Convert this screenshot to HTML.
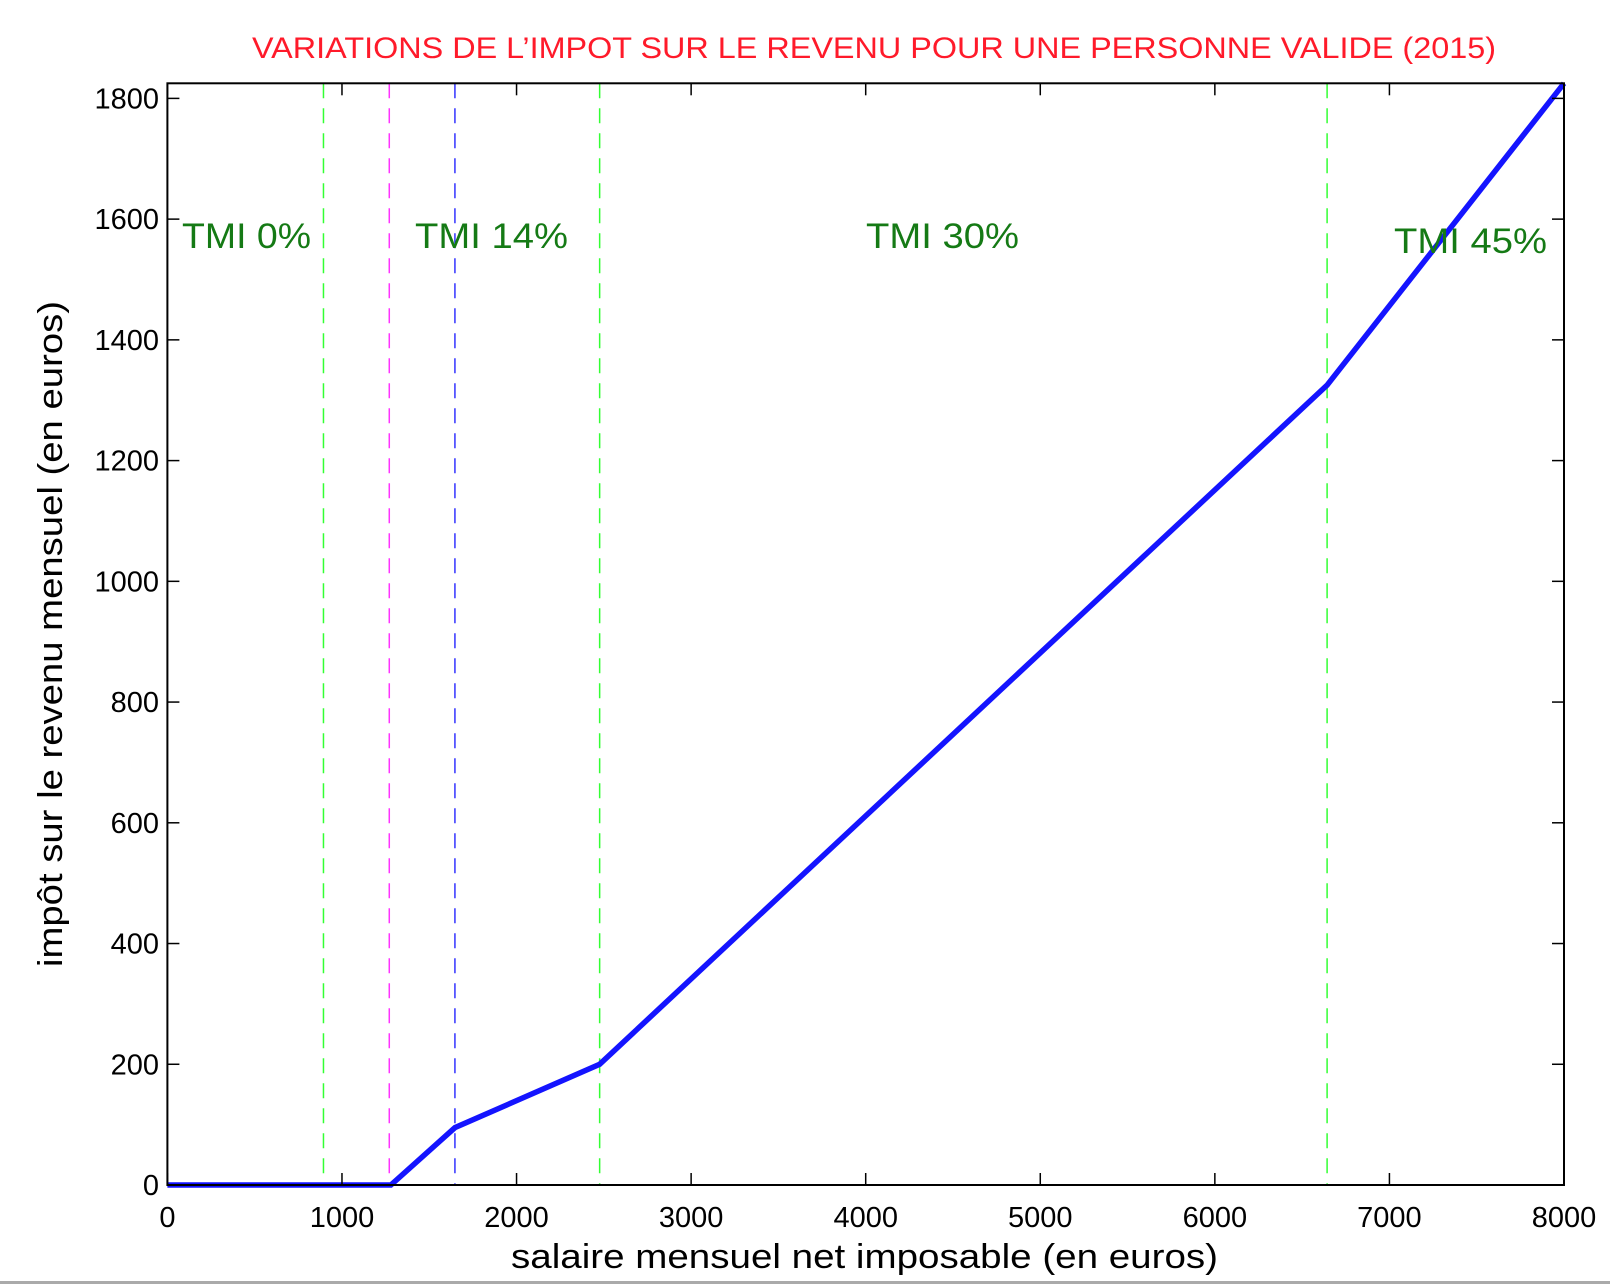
<!DOCTYPE html>
<html><head><meta charset="utf-8"><style>
html,body{margin:0;padding:0;background:#fff;}
svg{display:block;font-family:"Liberation Sans",Arial,sans-serif;}
</style></head><body>
<svg id="chart" width="1610" height="1284" viewBox="0 0 1610 1284">
<rect x="0" y="0" width="1610" height="1284" fill="#fff"/>
<line x1="0" y1="1282.5" x2="1610" y2="1282.5" stroke="#aaa" stroke-width="3"/>
<text x="252" y="58" font-size="30" fill="#ff1a2a" textLength="1244" lengthAdjust="spacingAndGlyphs">VARIATIONS DE L’IMPOT SUR LE REVENU POUR UNE PERSONNE VALIDE (2015)</text>
<g id="plot"></g>
<text x="511" y="1268" font-size="34" fill="#000" textLength="707" lengthAdjust="spacingAndGlyphs">salaire mensuel net imposable (en euros)</text>
<text transform="translate(62,967) rotate(-90)" x="0" y="0" font-size="34" fill="#000" textLength="666" lengthAdjust="spacingAndGlyphs">impôt sur le revenu mensuel (en euros)</text>
<text x="182" y="248" font-size="35" fill="#157a15" textLength="129" lengthAdjust="spacingAndGlyphs">TMI 0%</text>
<text x="415" y="248" font-size="35" fill="#157a15" textLength="153" lengthAdjust="spacingAndGlyphs">TMI 14%</text>
<text x="866" y="248" font-size="35" fill="#157a15" textLength="153" lengthAdjust="spacingAndGlyphs">TMI 30%</text>
<text x="1394" y="253" font-size="35" fill="#157a15" textLength="153" lengthAdjust="spacingAndGlyphs">TMI 45%</text>
</svg>
<script>
const xTicks = [0,1000,2000,3000,4000,5000,6000,7000,8000];
const yTicks = [0,200,400,600,800,1000,1200,1400,1600,1800];
const thresholdX = [894, 1271, 1647, 2476, 6643];
const thresholdColors = ["#33ff33","#ff33ff","#3333ff","#33ff33","#33ff33"];
const salary = [0, 1280, 1647, 2476, 6643, 8000];
const tax = [0, 0, 95, 200, 1325, 1825];

const X0=167.4, X1=1564, Y0=1185, YTOP=83.3;
const xMax=8000, yMax=1825;
const sx = v => X0 + (X1-X0)*v/xMax;
const sy = v => Y0 - (Y0-YTOP)*v/yMax;
const NS="http://www.w3.org/2000/svg";
const g=document.getElementById('plot');
function mk(tag, attrs){const e=document.createElementNS(NS,tag);for(const k in attrs)e.setAttribute(k,attrs[k]);g.appendChild(e);return e;}

thresholdX.forEach((v,i)=>{
  const l=mk('line',{x1:sx(v),x2:sx(v),y1:YTOP,y2:Y0,stroke:thresholdColors[i],'stroke-width':1.5,'stroke-dasharray':'15 10'});
  
  
});
const pts=salary.map((s,i)=>sx(s)+','+sy(tax[i])).join(' ');
const pl=mk('polyline',{points:pts,fill:'none',stroke:'#1414ff','stroke-width':5.5,'stroke-linejoin':'miter'});



const box=mk('rect',{x:X0,y:YTOP,width:X1-X0,height:Y0-YTOP,fill:'none',stroke:'#000','stroke-width':2});



xTicks.forEach(v=>{
  const x=sx(v);
  mk('line',{x1:x,x2:x,y1:Y0,y2:Y0-12,stroke:'#000','stroke-width':1.5});
  mk('line',{x1:x,x2:x,y1:YTOP,y2:YTOP+12,stroke:'#000','stroke-width':1.5});
  const t=mk('text',{x:x,y:1227,'font-size':29,'text-anchor':'middle',fill:'#000'});
  t.textContent=v;
  
  
});
yTicks.forEach(v=>{
  const y=sy(v);
  mk('line',{x1:X0,x2:X0+12,y1:y,y2:y,stroke:'#000','stroke-width':1.5});
  mk('line',{x1:X1,x2:X1-12,y1:y,y2:y,stroke:'#000','stroke-width':1.5});
  const t=mk('text',{x:159,y:y+10,'font-size':29,'text-anchor':'end',fill:'#000'});
  t.textContent=v;
  
  
});
</script>
</body></html>
